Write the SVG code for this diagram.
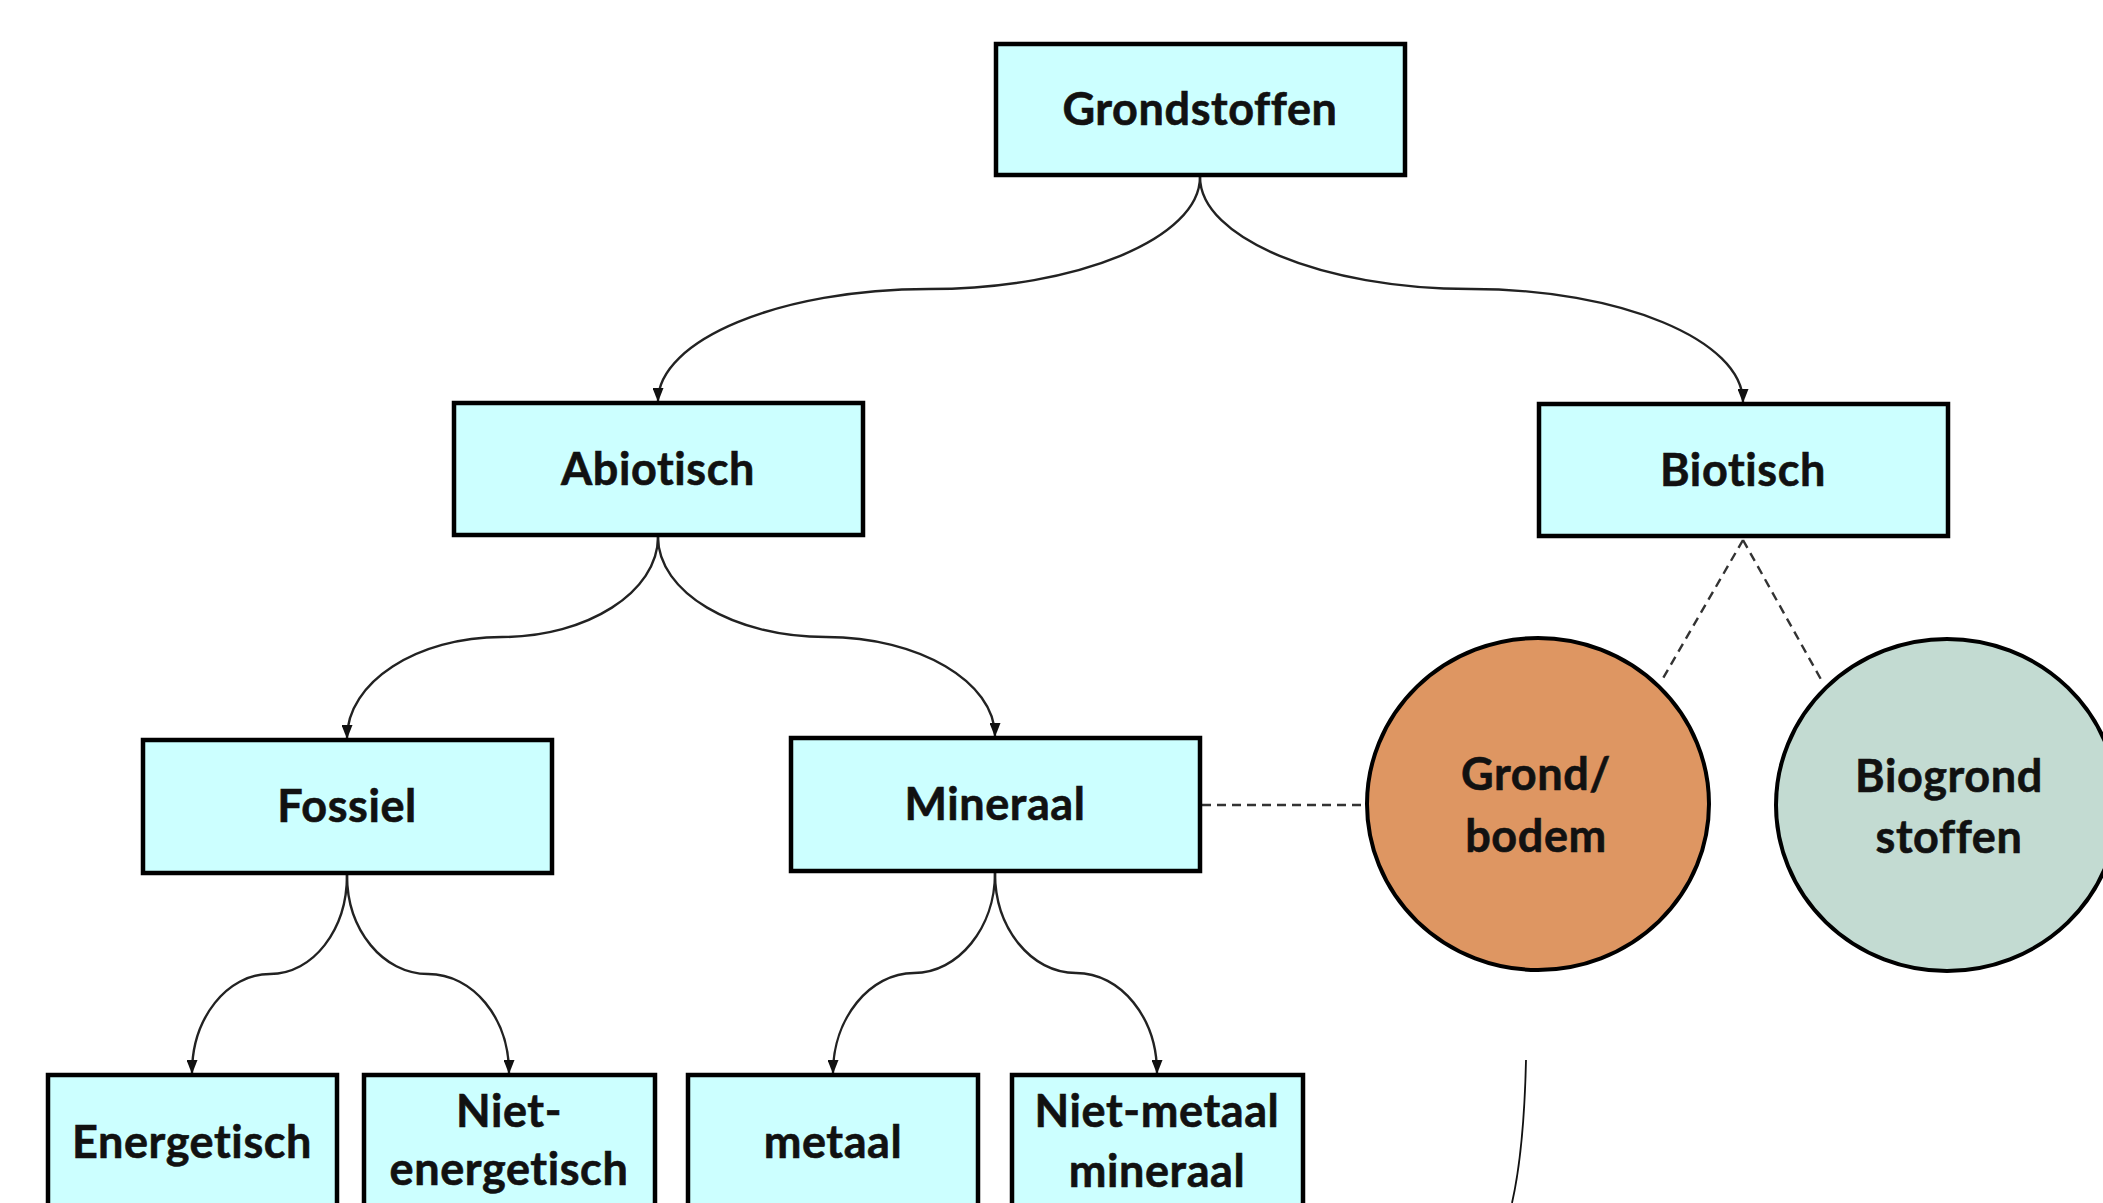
<svg xmlns="http://www.w3.org/2000/svg" width="2103" height="1203" viewBox="0 0 2103 1203">
<style>
.box{fill:#CCFFFF;stroke:#000;stroke-width:4.5}
.lbl{font-family:Lato,"Liberation Sans",sans-serif;font-weight:bold;font-size:45px;letter-spacing:0.6px;fill:#111;stroke:#111;stroke-width:0.6;text-anchor:middle}
.con{fill:none;stroke:#222;stroke-width:2.4;marker-end:url(#arr)}
.dash{fill:none;stroke:#333;stroke-width:2.4;stroke-dasharray:9 6}
</style>
<defs>
<marker id="arr" markerUnits="userSpaceOnUse" viewBox="0 0 14 11" markerWidth="14" markerHeight="11" refX="13" refY="5.5" orient="auto">
<path d="M0,0 L14,5.5 L0,11 z" fill="#111"/>
</marker>
</defs>
<rect width="2103" height="1203" fill="#fff"/>
<g id="connectors">
<path class="con" d="M1200,177 C1200,238 1078,289 929,289 C780,289 658,340 658,401"/>
<path class="con" d="M1200,177 C1200,238 1322,289 1471,289 C1620,289 1743,340 1743,402"/>
<path class="con" d="M658,537 C658,592 587,637 502,637 C417,637 347,682 347,738"/>
<path class="con" d="M658,537 C658,592 733,637 826,637 C919,637 995,682 995,736"/>
<path class="con" d="M347,875 C347,930 313,974 270,974 C227,974 192,1018 192,1073"/>
<path class="con" d="M347,875 C347,930 383,974 428,974 C473,974 509,1018 509,1073"/>
<path class="con" d="M995,873 C995,928 958,973 914,973 C870,973 833,1018 833,1073"/>
<path class="con" d="M995,873 C995,928 1031,973 1076,973 C1121,973 1157,1018 1157,1073"/>
<path class="dash" d="M1743,540 L1662,680"/>
<path class="dash" d="M1743,540 L1823,683"/>
<path class="dash" d="M1202,805 L1365,805"/>
<path d="M1526,1060 Q1524,1150 1512,1203" fill="none" stroke="#111" stroke-width="1.8"/>
</g>
<g id="grondstoffen"><rect class="box" x="996" y="44" width="409" height="131"/><text class="lbl" x="1200" y="125">Grondstoffen</text></g>
<g id="abiotisch"><rect class="box" x="454" y="403" width="409" height="132"/><text class="lbl" x="658" y="485">Abiotisch</text></g>
<g id="biotisch"><rect class="box" x="1539" y="404" width="409" height="132"/><text class="lbl" x="1743" y="486">Biotisch</text></g>
<g id="fossiel"><rect class="box" x="143" y="740" width="409" height="133"/><text class="lbl" x="347" y="822">Fossiel</text></g>
<g id="mineraal"><rect class="box" x="791" y="738" width="409" height="133"/><text class="lbl" x="995" y="820">Mineraal</text></g>
<g id="grond-bodem"><ellipse cx="1538" cy="804" rx="171" ry="166" fill="#DE9662" stroke="#000" stroke-width="4"/><text class="lbl" x="1536" y="790">Grond/</text><text class="lbl" x="1536" y="852">bodem</text></g>
<g id="biogrondstoffen"><ellipse cx="1947" cy="805" rx="171" ry="166" fill="#C3DBD2" stroke="#000" stroke-width="4"/><text class="lbl" x="1949" y="792">Biogrond</text><text class="lbl" x="1949" y="853">stoffen</text></g>
<g id="energetisch"><rect class="box" x="48" y="1075" width="289" height="140"/><text class="lbl" x="192" y="1158">Energetisch</text></g>
<g id="niet-energetisch"><rect class="box" x="364" y="1075" width="291" height="140"/><text class="lbl" x="509" y="1127">Niet-</text><text class="lbl" x="509" y="1185">energetisch</text></g>
<g id="metaal"><rect class="box" x="688" y="1075" width="290" height="140"/><text class="lbl" x="833" y="1158">metaal</text></g>
<g id="niet-metaal-mineraal"><rect class="box" x="1012" y="1075" width="291" height="140"/><text class="lbl" x="1157" y="1127">Niet-metaal</text><text class="lbl" x="1157" y="1187">mineraal</text></g>
</svg>
